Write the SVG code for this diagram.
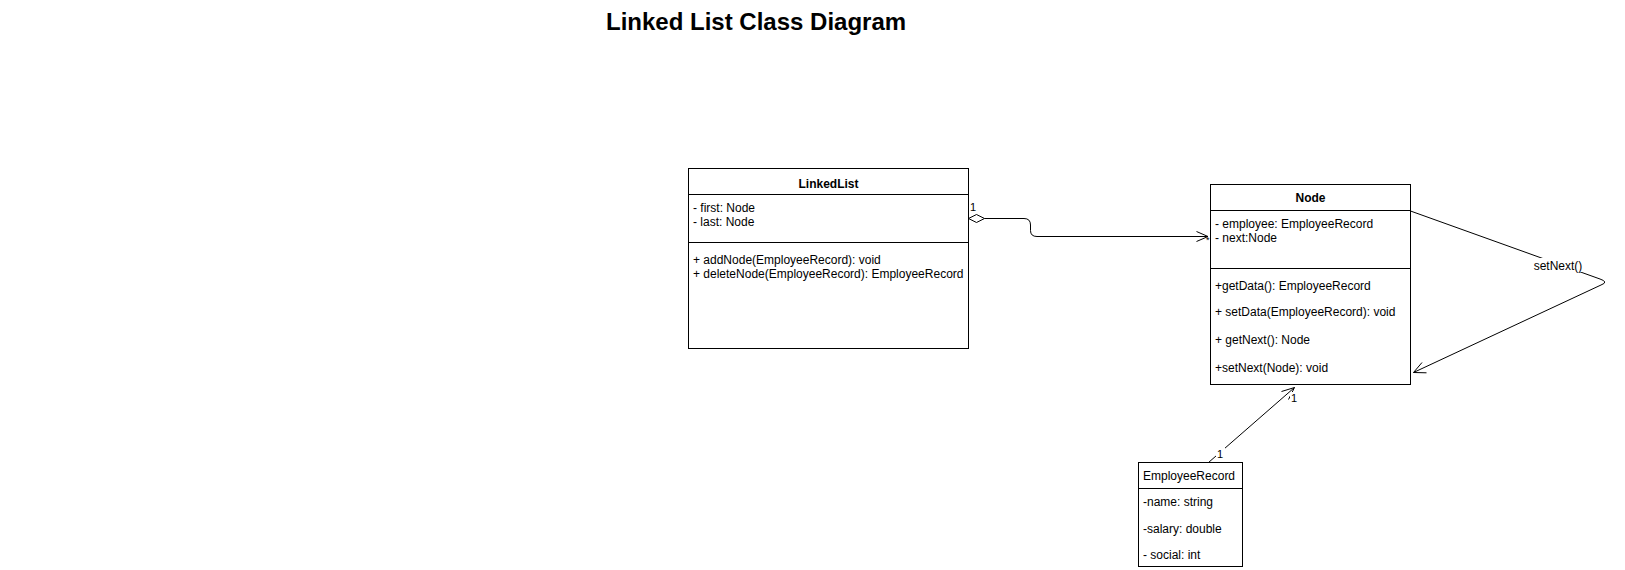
<svg xmlns="http://www.w3.org/2000/svg" width="1625" height="570" viewBox="0 0 1625 570">
<style>
text{font-family:"Liberation Sans",Arial,sans-serif;font-size:12px;fill:#000}
.b{font-weight:bold}
.c{text-anchor:middle}
.box{fill:#fff;stroke:#000;stroke-width:1}
.ln{fill:none;stroke:#000;stroke-width:1}
.lbl{font-size:11px}
</style>
<rect width="1625" height="570" fill="#fff"/>
<text x="606" y="30" class="b" style="font-size:24px">Linked List Class Diagram</text>

<g id="connectors">
<path class="ln" d="M968.5 218.5 L976.5 214.5 L984.5 218.5 L976.5 222.5 Z"/>
<path class="ln" d="M984.5 218.5 L1024 218.5 Q1030.5 218.5 1030.5 225 L1030.5 230.5 Q1030.5 236.5 1037 236.5 L1208 236.5"/>
<path class="ln" d="M1196.5 231.5 L1208 236.5 L1196.5 241.5"/>
<text x="970" y="211" class="lbl">1</text>
<text x="1206" y="243" style="font-size:9px">*</text>

<path class="ln" d="M1410.5 211 L1600 279 Q1609 282 1601 285 L1413.5 372.5"/>
<path class="ln" d="M1422 362.5 L1413.5 372.5 L1426.5 372.8"/>
<rect x="1532" y="258" width="52" height="14" fill="#fff"/>
<text x="1558" y="270" class="c">setNext()</text>

<path class="ln" d="M1208.5 462.5 L1294.5 387.5"/>
<path class="ln" d="M1281.5 391.5 L1294.5 387.5 L1288.5 399.5"/>
<rect x="1290" y="392" width="8" height="11" fill="#fff"/>
<text x="1291" y="402" class="lbl">1</text>
<rect x="1216" y="447" width="9" height="12" fill="#fff"/>
<text x="1217" y="458" class="lbl">1</text>
</g>

<g id="LinkedList">
<rect class="box" x="688.5" y="168.5" width="280" height="180"/>
<line class="ln" x1="688.5" y1="194.5" x2="968.5" y2="194.5"/>
<line class="ln" x1="688.5" y1="242.5" x2="968.5" y2="242.5"/>
<text x="828.5" y="188" class="b c">LinkedList</text>
<text x="693" y="212">- first: Node</text>
<text x="693" y="226">- last: Node</text>
<text x="693" y="264">+ addNode(EmployeeRecord): void</text>
<text x="693" y="278">+ deleteNode(EmployeeRecord): EmployeeRecord</text>
</g>

<g id="Node">
<rect class="box" x="1210.5" y="184.5" width="200" height="200"/>
<line class="ln" x1="1210.5" y1="210.5" x2="1410.5" y2="210.5"/>
<line class="ln" x1="1210.5" y1="268.5" x2="1410.5" y2="268.5"/>
<text x="1310.5" y="202" class="b c">Node</text>
<text x="1215" y="228">- employee: EmployeeRecord</text>
<text x="1215" y="242">- next:Node</text>
<text x="1215" y="290">+getData(): EmployeeRecord</text>
<text x="1215" y="316">+ setData(EmployeeRecord): void</text>
<text x="1215" y="344">+ getNext(): Node</text>
<text x="1215" y="371.5">+setNext(Node): void</text>
</g>

<g id="EmployeeRecord">
<rect class="box" x="1138.5" y="462.5" width="104" height="104"/>
<line class="ln" x1="1138.5" y1="488.5" x2="1242.5" y2="488.5"/>
<text x="1143" y="480">EmployeeRecord</text>
<text x="1143" y="506">-name: string</text>
<text x="1143" y="532.5">-salary: double</text>
<text x="1143" y="558.5">- social: int</text>
</g>
</svg>
